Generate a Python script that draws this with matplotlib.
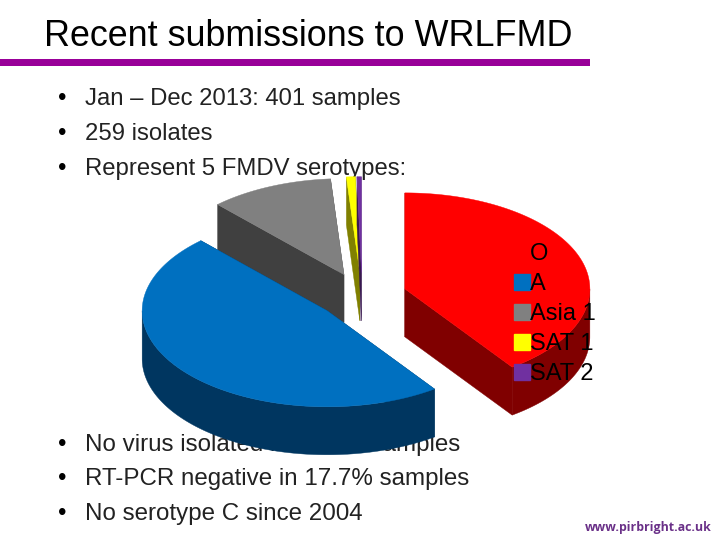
import numpy as np
import matplotlib
matplotlib.use('Agg')
import matplotlib.pyplot as plt
from matplotlib.patches import Patch, Polygon

plt.rcParams['font.family'] = ['Liberation Sans', 'DejaVu Sans']

serotypes = ['O', 'A', 'Asia 1', 'SAT 1', 'SAT 2']
isolates = [104, 124, 28, 2, 1]
top_colours = ['#ff0000', '#0070c0', '#808080', '#ffff00', '#7030a0']
side_colours = ['#800000', '#003660', '#404040', '#808000', '#381850']

title = 'Recent submissions to WRLFMD'
upper_bullets = ['Jan – Dec 2013: 401 samples', '259 isolates', 'Represent 5 FMDV serotypes:']
lower_bullets = ['No virus isolated in 35.4% samples', 'RT-PCR negative in 17.7% samples', 'No serotype C since 2004']

# pie geometry, in pixels of the 720x540 slide
CX, CY = 362, 296
RX, RY = 185, 96
DEPTH = 48
EXPLODE = 45


def arc_points(start, end, cx, cy):
    # angles are clockwise from 12 o'clock, the way the slide's pie starts
    theta = np.radians(np.linspace(start, end, max(int(end - start) * 2, 2)))
    return np.column_stack([cx + RX * np.sin(theta), cy - RY * np.cos(theta)])


def draw_wedge(ax, start, end, top, side):
    mid = np.radians((start + end) / 2)
    cx = CX + EXPLODE * np.sin(mid)
    cy = CY - EXPLODE * RY / RX * np.cos(mid)

    arc = arc_points(start, end, cx, cy)
    apex = np.array([cx, cy])
    drop = np.array([0, DEPTH])

    # only the front half of the rim can be seen (90 to 270 degrees)
    faces = [[apex, arc[0], arc[0] + drop, apex + drop],
             [apex, arc[-1], arc[-1] + drop, apex + drop]]
    front_start, front_end = max(start, 90), min(end, 270)
    if front_start < front_end:
        front = arc_points(front_start, front_end, cx, cy)
        faces.append(np.vstack([front, front[::-1] + drop]))
    for face in faces:
        ax.add_patch(Polygon(face, closed=True, fc=side, ec=side, lw=0.3, zorder=3))
    ax.add_patch(Polygon(np.vstack([apex, arc]), closed=True, fc=top, ec=top, lw=0.3, zorder=3))


def main():
    fig = plt.figure(figsize=(7.2, 5.4), dpi=100)
    ax = fig.add_axes([0, 0, 1, 1])
    ax.set_xlim(0, 720)
    ax.set_ylim(540, 0)
    ax.axis('off')

    ax.text(44, 36, title, fontsize=25.8, va='center', color='black')
    ax.fill_between([0, 590], 59, 66, color='#990099', lw=0)

    for i, line in enumerate(upper_bullets):
        y = 99.5 + i * 34.5
        ax.text(58, y, '•', fontsize=17.2, va='center')
        ax.text(85, y, line, fontsize=17.2, va='center', color='#222222')
    for i, line in enumerate(lower_bullets):
        y = 445 + i * 34.5
        ax.text(58, y, '•', fontsize=17.2, va='center')
        ax.text(85, y, line, fontsize=17.4, va='center', color='#222222')

    ax.text(585, 527, 'www.pirbright.ac.uk', fontsize=8.9, family='Open Sans',
            weight='bold', color='#6a3088', va='center')

    # work out the slice angles, then paint back to front
    angles = np.cumsum([0] + isolates) / sum(isolates) * 360
    for i in [2, 3, 4, 0, 1]:
        draw_wedge(ax, angles[i], angles[i + 1], top_colours[i], side_colours[i])

    handles = [Patch(fc=c, ec=c) for c in top_colours]
    leg = ax.legend(handles, serotypes, loc='upper left', bbox_to_anchor=(514, 243),
                    bbox_transform=ax.transData, frameon=False, fontsize=17,
                    handlelength=0.68, handleheight=0.68, handletextpad=0.0,
                    labelspacing=0.34, borderpad=0, borderaxespad=0)
    leg.set_zorder(5)

    fig.savefig('out.png', dpi=100)


if __name__ == "__main__":
    main()
